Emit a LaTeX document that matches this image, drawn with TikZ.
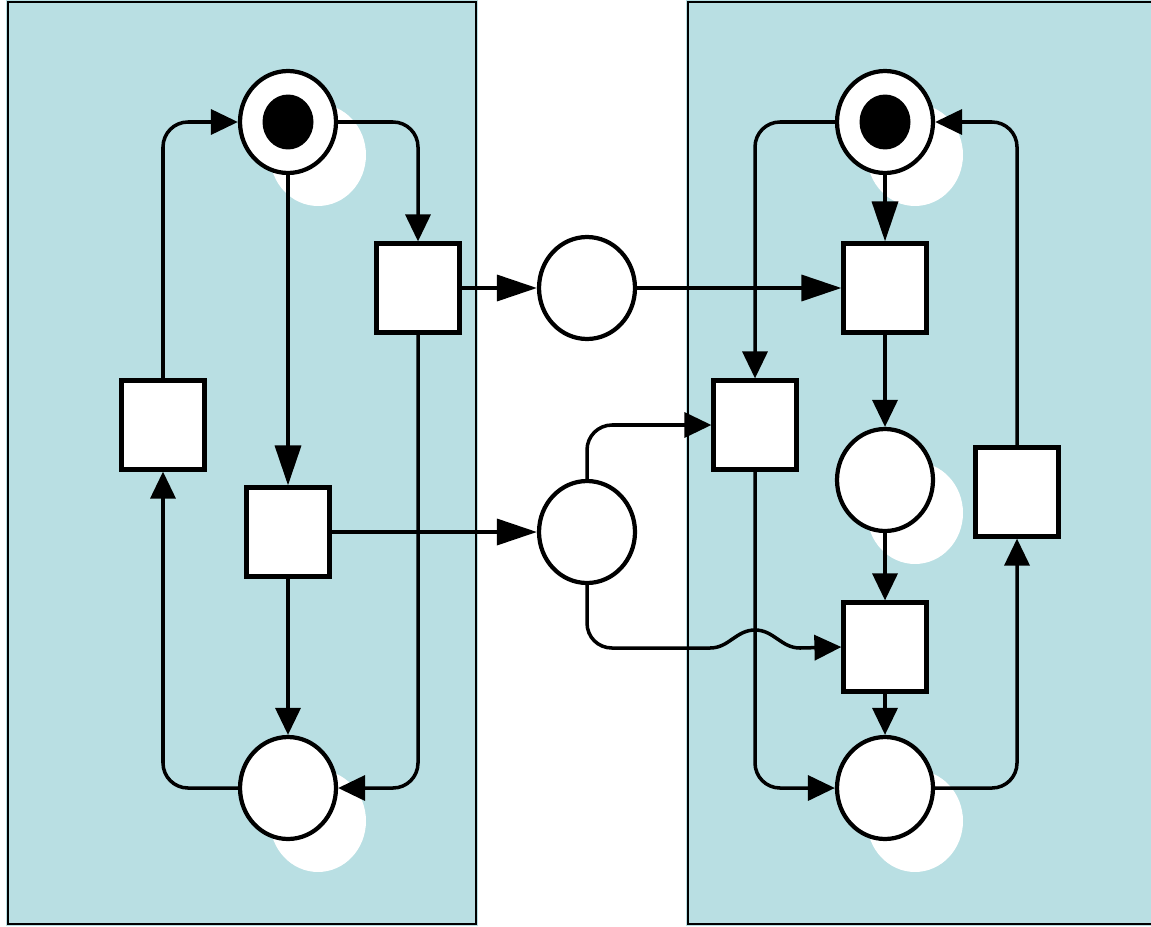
\documentclass[tikz,border=0pt]{standalone}
\usetikzlibrary{arrows.meta,shapes.geometric,shadows}

\definecolor{panel}{RGB}{185,223,227}

\begin{document}
\begin{tikzpicture}[
  x=0.02cm, y=-0.02cm,
  line width=2pt,
  arc/.style={-{Triangle[length=0.54cm, width=0.5cm]}, rounded corners=0.5cm},
  longarc/.style={-{Triangle[length=0.8cm, width=0.52cm]}},
  place/.style={ellipse, draw, fill=white, line width=2.4pt, inner sep=0pt,
    minimum width=1.92cm, minimum height=2.04cm},
  shaded/.style={general shadow={fill=white, shadow xshift=0.6cm, shadow yshift=-0.66cm}},
  trans/.style={rectangle, draw, fill=white, line width=2.4pt, inner sep=0pt,
    minimum width=1.66cm, minimum height=1.78cm},
  token/.style={ellipse, fill=black, inner sep=0pt,
    minimum width=1.02cm, minimum height=1.1cm}
]
  \useasboundingbox (0,0) rectangle (1151,926);
  \clip (0,0) rectangle (1151,926);

  % two sides
  \draw[panel, fill=panel] (8,2) rectangle (476,924);
  \draw[panel, fill=panel] (688,2) rectangle (1170,924);
  \draw[line width=0.8pt] (8,2) rectangle (476,924);
  \draw[line width=0.8pt] (688,2) rectangle (1170,924);

  % positions, left side
  \node[place, shaded] (p1) at (288,122) {};
  \node[place, shaded] (p2) at (288,788) {};
  \node[trans] (t1) at (418,288) {};
  \node[trans] (t2) at (163,425) {};
  \node[trans] (t3) at (288,532) {};

  % positions, between
  \node[place] (m1) at (587,288) {};
  \node[place] (m2) at (587,532) {};

  % positions, right side
  \node[place, shaded] (p3) at (885,122) {};
  \node[place, shaded] (p4) at (885,480) {};
  \node[place, shaded] (p5) at (885,788) {};
  \node[trans] (t4) at (885,288) {};
  \node[trans] (t5) at (755,425) {};
  \node[trans] (t6) at (1017,492) {};
  \node[trans] (t7) at (885,647) {};

  % tokens
  \node[token] (k1) at (p1) {};
  \node[token] (k2) at (p3) {};

  % corner and hop over the vertical line
  \coordinate (bendA) at (587,623);
  \coordinate (bendB) at (612,648);
  \coordinate (hopL) at (710,648);
  \coordinate (hopT) at (755,630);
  \coordinate (hopR) at (800,648);

  % edges, left side
  \draw[arc] (p1.east) -| (t1.north);
  \draw[longarc] (p1.south) -- (t3.north);
  \draw[arc] (t1.south) |- (p2.east);
  \draw[arc] (t3.south) -- (p2.north);
  \draw[arc] (p2.west) -| (t2.south);
  \draw[arc] (t2.north) |- (p1.west);

  % edges, between
  \draw[longarc] (t1.east) -- (m1.west);
  \draw[longarc] (t3.east) -- (m2.west);
  \draw[longarc] (m1.east) -- (t4.west);
  \draw[arc] (m2.north) |- (t5.west);
  \draw[arc, sharp corners] (m2.south) -- (bendA)
    .. controls (587,637) and (598,648) .. (bendB) -- (hopL)
    to[out=0, in=180] (hopT) to[out=0, in=180] (hopR) -- (t7.west);

  % edges, right side
  \draw[arc] (p3.west) -| (t5.north);
  \draw[longarc] (p3.south) -- (t4.north);
  \draw[arc] (t4.south) -- (p4.north);
  \draw[arc] (p4.south) -- (t7.north);
  \draw[arc] (t7.south) -- (p5.north);
  \draw[arc] (t5.south) |- (p5.west);
  \draw[arc] (p5.east) -| (t6.south);
  \draw[arc] (t6.north) |- (p3.east);
\end{tikzpicture}
\end{document}
